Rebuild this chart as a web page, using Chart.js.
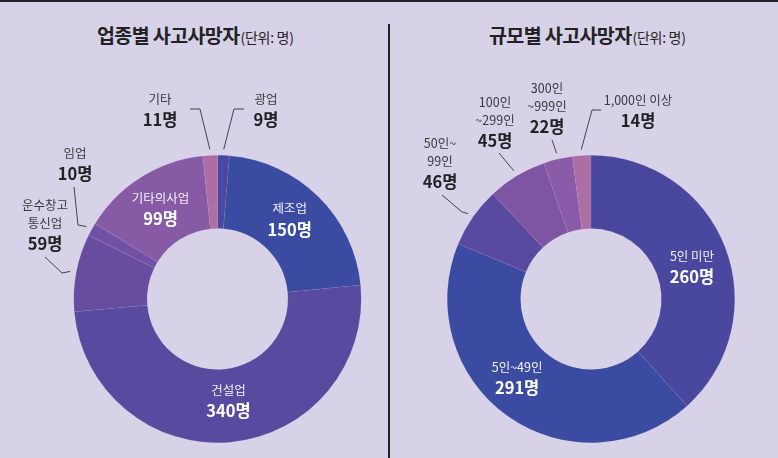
<!DOCTYPE html>
<html>
<head>
<meta charset="utf-8">
<script src="https://cdn.jsdelivr.net/npm/chart.js@4.4.1/dist/chart.umd.min.js"></script>
<style>
  body { margin: 0; }
  #wrap {
    position: relative; width: 778px; height: 458px; overflow: hidden;
    background: #d8d2e8; font-family: "Noto Sans CJK KR", "Noto Sans", sans-serif;
    border-top: 2px solid #222; box-sizing: border-box;
  }
  #wrap canvas { position: absolute; left: 0; top: -2px; }
  .divider { position: absolute; left: 388px; top: 22px; width: 1.5px; height: 440px; background: #222; }
  .title { position: absolute; top: 18px; color: #222; font-weight: 700; font-size: 19.5px; letter-spacing: -0.6px; white-space: nowrap; }
  .title small { font-weight: 400; font-size: 14px; letter-spacing: -0.3px; margin-left: 1px; }
</style>
</head>
<body>
<div id="wrap">
  <div class="title" style="left:97px">업종별 사고사망자<small>(단위: 명)</small></div>
  <div class="title" style="left:489px">규모별 사고사망자<small>(단위: 명)</small></div>
  <div class="divider"></div>
  <canvas id="chartIndustry" width="778" height="458"></canvas>
  <canvas id="chartSize" width="778" height="458"></canvas>
</div>
<script>
// ---- data ----
const industryLabels = ['광업', '제조업', '건설업', '운수창고\n통신업', '임업', '기타의사업', '기타'];
const industryValues = [9, 150, 340, 59, 10, 99, 11];
const industryColors = ['#4a479f', '#3a4ba1', '#584a9f', '#664da0', '#7151a4', '#875aa5', '#ad6ea3'];

const sizeLabels = ['5인 미만', '5인~49인', '50인~\n99인', '100인\n~299인', '300인\n~999인', '1,000인 이상'];
const sizeValues = [260, 291, 46, 45, 22, 14];
const sizeColors = ['#4a489e', '#3a4ba1', '#5a4a9f', '#7e55a3', '#8a5ba8', '#ad6ea3'];

const unit = '명';

// ---- label placement (page px) ----
// inside: offset from slice centre; outside: text position + leader path
const industryLayout = [
    { tx: 266, ty: 99, path: [[234, 109], [244, 109]] },
    { inside: true, dx: -3, dy: -4 },
    { inside: true, dx: 1, dy: -5 },
    { tx: 45, ty: 205, path: [[62, 273], [45, 257]] },
    { tx: 75, ty: 153, path: [[78, 225], [74, 187]] },
    { inside: true, dx: 0, dy: 0 },
    { tx: 160, ty: 99, path: [[200, 109], [190, 109]] }
];
const sizeLayout = [
    { inside: true, dx: 1, dy: 6 },
    { inside: true, dx: -12, dy: -9 },
    { tx: 440, ty: 143, path: [[462, 212], [442, 195]] },
    { tx: 495, ty: 102, path: [[499, 153]] },
    { tx: 547, ty: 88, path: [[552, 140]] },
    { tx: 638, ty: 100, path: [[592, 110], [601, 110]] }
];

const FONT = '"Noto Sans CJK KR", "Noto Sans", sans-serif';

function drawBlock(ctx, lines, value, x, y, inside) {
    // y = centre of first line
    ctx.textAlign = 'center';
    ctx.textBaseline = 'middle';
    ctx.font = '400 12.5px ' + FONT;
    ctx.fillStyle = inside ? '#f3f1fa' : '#3a3a3a';
    lines.forEach((t, k) => ctx.fillText(t, x, y + k * 18));
    ctx.font = '700 16.5px ' + FONT;
    ctx.fillStyle = inside ? '#ffffff' : '#222222';
    ctx.fillText(value + unit, x, y + (lines.length - 1) * 18 + 21);
}

const sliceLabels = {
    id: 'sliceLabels',
    afterDatasetsDraw(chart) {
        const ctx = chart.ctx;
        const layout = chart.options.plugins.sliceLabels.layout;
        const labels = chart.data.labels;
        const values = chart.data.datasets[0].data;
        chart.getDatasetMeta(0).data.forEach((arc, i) => {
            const p = arc.getProps(['x', 'y', 'startAngle', 'endAngle', 'innerRadius', 'outerRadius'], true);
            const mid = (p.startAngle + p.endAngle) / 2;
            const L = layout[i];
            const lines = labels[i].split('\n');
            ctx.save();
            if (L.inside) {
                const r = (p.innerRadius + p.outerRadius) / 2;
                const cx = p.x + Math.cos(mid) * r + L.dx;
                const cy = p.y + Math.sin(mid) * r + L.dy;
                const h = (lines.length - 1) * 18 + 21;
                drawBlock(ctx, lines, values[i], cx, cy - h / 2, true);
            } else {
                const r = p.outerRadius + 6;
                ctx.beginPath();
                ctx.moveTo(p.x + Math.cos(mid) * r, p.y + Math.sin(mid) * r);
                L.path.forEach(pt => ctx.lineTo(pt[0], pt[1]));
                ctx.strokeStyle = '#333';
                ctx.lineWidth = 0.9;
                ctx.stroke();
                drawBlock(ctx, lines, values[i], L.tx, L.ty, false);
            }
            ctx.restore();
        });
    }
};

function makeDonut(id, labels, values, colors, layout, padding) {
    return new Chart(document.getElementById(id), {
        type: 'doughnut',
        data: {
            labels: labels,
            datasets: [{
                data: values,
                backgroundColor: colors,
                borderColor: 'rgba(255,255,255,0.1)',
                borderWidth: 0.5,
                hoverOffset: 0
            }]
        },
        options: {
            responsive: false,
            animation: false,
            cutout: '49%',
            layout: { padding: padding },
            events: [],
            plugins: {
                legend: { display: false },
                tooltip: { enabled: false },
                sliceLabels: { layout: layout }
            }
        },
        plugins: [sliceLabels]
    });
}

makeDonut('chartIndustry', industryLabels, industryValues, industryColors, industryLayout,
    { left: 73, right: 416, top: 155, bottom: 15 });
makeDonut('chartSize', sizeLabels, sizeValues, sizeColors, sizeLayout,
    { left: 447, right: 43, top: 155, bottom: 15 });
</script>
</body>
</html>
